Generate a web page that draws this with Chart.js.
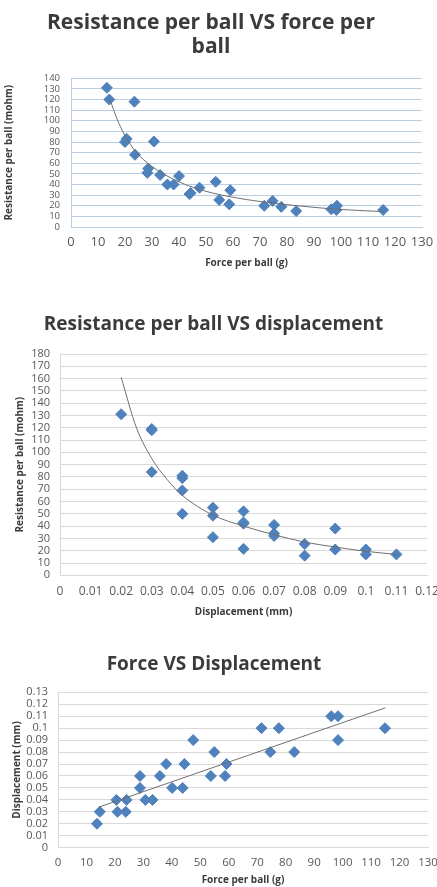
<!DOCTYPE html>
<html>
<head>
<meta charset="utf-8">
<script src="https://cdn.jsdelivr.net/npm/chart.js@4/dist/chart.umd.min.js"></script>
<style>
    html, body { margin: 0; padding: 0; background: #ffffff; }
    #page { position: relative; width: 437px; height: 887px; overflow: hidden; }
    canvas { position: absolute; left: 0; }
</style>
</head>
<body>
<div id="page">
    <canvas id="chartForce" width="437" height="275" style="top:0px"></canvas>
    <canvas id="chartDisp" width="437" height="340" style="top:290px"></canvas>
    <canvas id="chartLinear" width="437" height="247" style="top:640px"></canvas>
</div>
<script>
// Chart 1: resistance per ball vs force per ball
const forceR = [13.3, 14.2, 23.5, 20.6, 20.0, 30.7, 23.7, 28.6, 28.3, 33.0, 40.0, 35.7, 38.0, 43.9,
    44.3, 47.6, 53.6, 54.9, 59.0, 58.6, 71.6, 74.7, 77.9, 83.4, 96.4, 98.5, 98.3, 115.6];
const resistanceF = [131, 120, 118, 83, 80, 80.5, 68, 55, 51, 49, 48, 40, 40, 31,
    32, 37, 42.5, 25.5, 34.6, 21.4, 20, 24.5, 19, 15, 16.7, 20, 16, 16];
// power trendline, points
const trendForceX = [14.5, 17, 20, 24, 30, 40, 50, 60, 70, 80, 90, 100, 115.6];
const trendForceY = [119.5, 102, 86, 71, 57, 42.5, 33.6, 28, 24, 21, 18.5, 16.5, 14.5];

// Chart 2: resistance per ball vs displacement
const dispR = [0.02, 0.03, 0.03, 0.03, 0.04, 0.04, 0.04, 0.04, 0.05, 0.05, 0.05, 0.06, 0.06,
    0.06, 0.06, 0.07, 0.07, 0.07, 0.08, 0.08, 0.09, 0.09, 0.10, 0.10, 0.11];
const resistanceD = [131, 119, 118, 84, 81, 79, 69, 50, 55, 48.5, 31, 52, 43,
    42, 21.5, 41, 34, 32, 25.5, 16, 38, 21, 21, 17, 17];
const trendDispX = [0.02, 0.025, 0.03, 0.035, 0.04, 0.05, 0.06, 0.07, 0.08, 0.09, 0.10, 0.11];
const trendDispY = [161, 120, 95, 78, 65, 49, 40, 33, 27, 23, 19.5, 17];

// Chart 3: displacement vs force per ball
const forceD = [13.7, 14.7, 20.5, 20.9, 24.1, 23.8, 28.8, 28.8, 30.7, 33.2, 35.8, 38.0, 40.1, 43.8,
    44.4, 47.5, 53.7, 54.9, 58.7, 59.2, 71.5, 74.6, 77.6, 83.0, 96.0, 98.4, 98.4, 114.9];
const displacementF = [0.02, 0.03, 0.04, 0.03, 0.04, 0.03, 0.06, 0.05, 0.04, 0.04, 0.06, 0.07, 0.05, 0.05,
    0.07, 0.09, 0.06, 0.08, 0.06, 0.07, 0.10, 0.08, 0.10, 0.08, 0.11, 0.11, 0.09, 0.10];
const trendLinearX = [14.4, 115];
const trendLinearY = [0.034, 0.117];

const MARKER = '#4f81bd';
const TREND = '#6f6f6f';
const FONT = "'Open Sans', 'DejaVu Sans', sans-serif";

// zip two arrays into {x, y} points
function toPoints(xs, ys) {
    return xs.map((x, i) => ({ x: x, y: ys[i] }));
}

// drop float noise in decimal tick labels (0.07, 0.1 ...)
function decimalLabel(value) {
    return String(+value.toFixed(2));
}

function buildChart(id, cfg) {
    const ctx = document.getElementById(id).getContext('2d');
    return new Chart(ctx, {
        type: 'scatter',
        data: {
            datasets: [
                {
                    data: toPoints(cfg.trendX, cfg.trendY),
                    showLine: true,
                    borderColor: TREND,
                    borderWidth: 1,
                    pointRadius: 0,
                    tension: 0.4,
                    cubicInterpolationMode: 'monotone'
                },
                {
                    data: toPoints(cfg.xs, cfg.ys),
                    pointStyle: 'rectRot',
                    pointRadius: 5.5,
                    backgroundColor: MARKER,
                    borderColor: MARKER,
                    borderWidth: 1
                }
            ]
        },
        options: {
            responsive: false,
            animation: false,
            layout: { padding: { left: 0, right: cfg.padRight, top: 0, bottom: 0 } },
            plugins: {
                legend: { display: false },
                tooltip: { enabled: false },
                title: {
                    display: true,
                    text: cfg.title,
                    color: '#3b3b3b',
                    font: { family: FONT, size: cfg.titleSize, weight: 'bold', lineHeight: cfg.titleLine },
                    padding: cfg.titlePad
                }
            },
            scales: {
                x: {
                    type: 'linear',
                    min: cfg.xMin,
                    max: cfg.xMax,
                    afterFit: (scale) => {
                        scale.height = cfg.xHeight;
                        scale.paddingLeft = 0;
                        scale.paddingRight = 0;
                    },
                    grid: { display: false, drawTicks: false },
                    border: { display: true, color: cfg.gridColor, width: 1 },
                    ticks: {
                        stepSize: cfg.xStep,
                        autoSkip: false,
                        maxRotation: 0,
                        padding: cfg.xTickPad,
                        color: '#595959',
                        font: { family: FONT, size: cfg.xTickSize },
                        callback: decimalLabel
                    },
                    title: {
                        display: true,
                        text: cfg.xTitle,
                        color: '#3b3b3b',
                        font: { family: FONT, size: 10, weight: 'bold', lineHeight: 1.2 },
                        padding: { top: 0, bottom: cfg.xTitlePad }
                    }
                },
                y: {
                    type: 'linear',
                    min: cfg.yMin,
                    max: cfg.yMax,
                    afterFit: (scale) => {
                        scale.width = cfg.yWidth;
                        scale.paddingTop = 0;
                        scale.paddingBottom = 0;
                    },
                    grid: { color: cfg.gridColor, lineWidth: 1, drawTicks: false },
                    border: { display: true, color: cfg.gridColor, width: 1 },
                    ticks: {
                        stepSize: cfg.yStep,
                        autoSkip: false,
                        padding: cfg.yTickPad,
                        color: '#595959',
                        font: { family: FONT, size: cfg.yTickSize },
                        callback: decimalLabel
                    },
                    title: {
                        display: true,
                        text: cfg.yTitle,
                        color: '#3b3b3b',
                        font: { family: FONT, size: 10, weight: 'bold', lineHeight: 1.2 },
                        padding: { top: cfg.yTitlePad, bottom: 0 }
                    }
                }
            }
        }
    });
}

buildChart('chartForce', {
    title: ['Resistance per ball VS force per', 'ball'],
    titleSize: 21, titleLine: 1.15, titlePad: { top: 11, bottom: 19 },
    xs: forceR, ys: resistanceF, trendX: trendForceX, trendY: trendForceY,
    xMin: 0, xMax: 130, xStep: 10, yMin: 0, yMax: 140, yStep: 10,
    xTitle: 'Force per ball (g)', yTitle: 'Resistance per ball (mohm)',
    gridColor: '#b9cde5', padRight: 15,
    xHeight: 48, xTickPad: 7, xTickSize: 13, xTitlePad: 6,
    yWidth: 71, yTickPad: 11, yTickSize: 9.5, yTitlePad: 3
});

buildChart('chartDisp', {
    title: 'Resistance per ball VS displacement',
    titleSize: 19, titleLine: 1.2, titlePad: { top: 23.6, bottom: 17.6 },
    xs: dispR, ys: resistanceD, trendX: trendDispX, trendY: trendDispY,
    xMin: 0, xMax: 0.12, xStep: 0.01, yMin: 0, yMax: 180, yStep: 10,
    xTitle: 'Displacement (mm)', yTitle: 'Resistance per ball (mohm)',
    gridColor: '#d9d9d9', padRight: 10,
    xHeight: 54.7, xTickPad: 9.5, xTickSize: 12, xTitlePad: 12,
    yWidth: 60, yTickPad: 10, yTickSize: 11, yTitlePad: 14
});

buildChart('chartLinear', {
    title: 'Force VS Displacement',
    titleSize: 19, titleLine: 1.2, titlePad: { top: 13.6, bottom: 15.9 },
    xs: forceD, ys: displacementF, trendX: trendLinearX, trendY: trendLinearY,
    xMin: 0, xMax: 130, xStep: 10, yMin: 0, yMax: 0.13, yStep: 0.01,
    xTitle: 'Force per ball (g)', yTitle: 'Displacement (mm)',
    gridColor: '#d9d9d9', padRight: 9,
    xHeight: 39.3, xTickPad: 8, xTickSize: 11.5, xTitlePad: 1,
    yWidth: 58, yTickPad: 10, yTickSize: 11, yTitlePad: 11
});
</script>
</body>
</html>
